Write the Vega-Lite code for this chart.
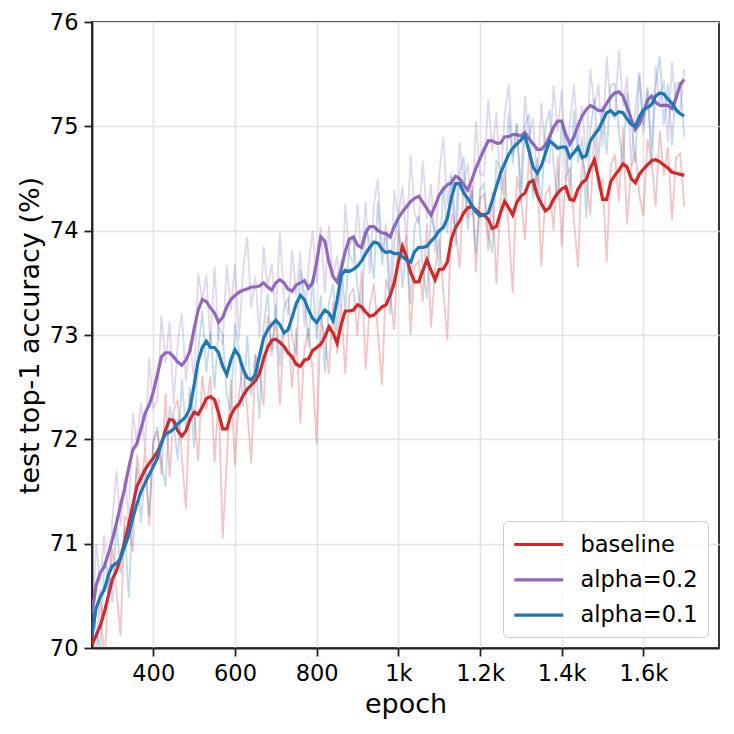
{
  "$schema": "https://vega.github.io/schema/vega-lite/v6.json",
  "autosize": {"type": "none"},
  "width": 627,
  "height": 626,
  "padding": {"left": 92, "top": 22, "right": 15, "bottom": 86},
  "background": "white",
  "config": {
    "font": "DejaVu Sans",
    "view": {"stroke": "#222222", "strokeWidth": 1.8},
    "axis": {
      "domainColor": "#222222", "domainWidth": 1.8,
      "tickColor": "#222222", "tickWidth": 1.8, "tickSize": 8,
      "labelFont": "DejaVu Sans", "labelFontSize": 22.5, "labelColor": "#000000", "labelPadding": 6,
      "titleFont": "DejaVu Sans", "titleFontSize": 27, "titleFontWeight": "normal", "titleColor": "#000000",
      "gridColor": "#e4e4e4", "gridWidth": 1.7
    },
    "legend": {"labelFont": "DejaVu Sans"}
  },
  "datasets": {
    "runs": [
      {"e":250,"b":70.23,"bs":70.03,"p":70.08,"ps":70.33,"c":70.41,"cs":70.11},
      {"e":260,"b":69.82,"bs":70.12,"p":71.0,"ps":70.6,"c":70.18,"cs":70.38},
      {"e":270,"b":70.56,"bs":70.21,"p":70.62,"ps":70.72,"c":69.99,"cs":70.49},
      {"e":280,"b":69.79,"bs":70.34,"p":71.08,"ps":70.78,"c":70.81,"cs":70.56},
      {"e":290,"b":70.6,"bs":70.5,"p":70.45,"ps":70.9,"c":70.75,"cs":70.7},
      {"e":300,"b":70.96,"bs":70.66,"p":71.24,"ps":71.04,"c":70.44,"cs":70.79},
      {"e":310,"b":70.54,"bs":70.74,"p":71.7,"ps":71.2,"c":71.21,"cs":70.81},
      {"e":320,"b":70.12,"bs":70.87,"p":71.17,"ps":71.37,"c":70.71,"cs":70.86},
      {"e":330,"b":71.27,"bs":71.02,"p":71.63,"ps":71.53,"c":71.17,"cs":70.97},
      {"e":340,"b":71.19,"bs":71.19,"p":71.23,"ps":71.73,"c":70.48,"cs":71.08},
      {"e":350,"b":70.92,"bs":71.37,"p":72.25,"ps":71.9,"c":71.35,"cs":71.25},
      {"e":360,"b":71.85,"bs":71.55,"p":71.96,"ps":71.96,"c":71.73,"cs":71.38},
      {"e":370,"b":71.53,"bs":71.63,"p":72.35,"ps":72.1,"c":71.2,"cs":71.5},
      {"e":380,"b":71.91,"bs":71.71,"p":71.9,"ps":72.25,"c":71.73,"cs":71.58},
      {"e":390,"b":71.17,"bs":71.77,"p":72.78,"ps":72.33,"c":71.26,"cs":71.66},
      {"e":400,"b":71.97,"bs":71.82,"p":72.3,"ps":72.45,"c":71.99,"cs":71.74},
      {"e":410,"b":72.08,"bs":71.88,"p":72.37,"ps":72.62,"c":72.12,"cs":71.82},
      {"e":420,"b":71.66,"bs":71.96,"p":73.19,"ps":72.79,"c":71.77,"cs":71.97},
      {"e":430,"b":72.44,"bs":72.09,"p":72.73,"ps":72.83,"c":71.55,"cs":72.05},
      {"e":440,"b":71.64,"bs":72.19,"p":73.13,"ps":72.83,"c":72.32,"cs":72.07},
      {"e":450,"b":72.28,"bs":72.18,"p":72.34,"ps":72.79,"c":72.15,"cs":72.1},
      {"e":460,"b":72.38,"bs":72.08,"p":72.94,"ps":72.74,"c":71.8,"cs":72.15},
      {"e":470,"b":71.83,"bs":72.03,"p":73.21,"ps":72.71,"c":72.58,"cs":72.18},
      {"e":480,"b":71.33,"bs":72.08,"p":72.56,"ps":72.76,"c":72.07,"cs":72.22},
      {"e":490,"b":72.44,"bs":72.19,"p":72.95,"ps":72.85,"c":72.5,"cs":72.3},
      {"e":500,"b":72.26,"bs":72.26,"p":72.56,"ps":73.06,"c":71.92,"cs":72.52},
      {"e":510,"b":71.79,"bs":72.24,"p":73.59,"ps":73.24,"c":72.85,"cs":72.75},
      {"e":520,"b":72.61,"bs":72.31,"p":73.34,"ps":73.34,"c":73.23,"cs":72.88},
      {"e":530,"b":72.29,"bs":72.39,"p":73.57,"ps":73.32,"c":72.64,"cs":72.94},
      {"e":540,"b":72.61,"bs":72.41,"p":72.91,"ps":73.26,"c":73.03,"cs":72.88},
      {"e":550,"b":71.78,"bs":72.38,"p":73.66,"ps":73.21,"c":72.48,"cs":72.88},
      {"e":560,"b":72.4,"bs":72.25,"p":72.97,"ps":73.12,"c":73.08,"cs":72.83},
      {"e":570,"b":71.05,"bs":72.1,"p":72.92,"ps":73.17,"c":73.0,"cs":72.7},
      {"e":580,"b":71.8,"bs":72.1,"p":73.67,"ps":73.27,"c":72.42,"cs":72.62},
      {"e":590,"b":72.58,"bs":72.23,"p":73.24,"ps":73.34,"c":72.26,"cs":72.76},
      {"e":600,"b":71.75,"bs":72.3,"p":73.68,"ps":73.38,"c":73.11,"cs":72.86},
      {"e":610,"b":72.44,"bs":72.34,"p":72.96,"ps":73.41,"c":72.85,"cs":72.8},
      {"e":620,"b":72.72,"bs":72.42,"p":73.63,"ps":73.43,"c":72.32,"cs":72.67},
      {"e":630,"b":72.28,"bs":72.48,"p":73.94,"ps":73.44,"c":72.99,"cs":72.59},
      {"e":640,"b":71.77,"bs":72.52,"p":73.26,"ps":73.46,"c":72.42,"cs":72.57},
      {"e":650,"b":72.81,"bs":72.56,"p":73.56,"ps":73.46,"c":72.82,"cs":72.62},
      {"e":660,"b":72.63,"bs":72.63,"p":72.97,"ps":73.47,"c":72.2,"cs":72.8},
      {"e":670,"b":72.32,"bs":72.77,"p":73.85,"ps":73.5,"c":73.07,"cs":72.97},
      {"e":680,"b":73.18,"bs":72.88,"p":73.46,"ps":73.46,"c":73.4,"cs":73.05},
      {"e":690,"b":72.85,"bs":72.95,"p":73.68,"ps":73.43,"c":72.8,"cs":73.1},
      {"e":700,"b":73.16,"bs":72.96,"p":73.15,"ps":73.5,"c":73.29,"cs":73.14},
      {"e":710,"b":72.33,"bs":72.93,"p":73.98,"ps":73.53,"c":72.7,"cs":73.1},
      {"e":720,"b":73.04,"bs":72.89,"p":73.35,"ps":73.5,"c":73.27,"cs":73.02},
      {"e":730,"b":73.03,"bs":72.83,"p":73.19,"ps":73.44,"c":73.35,"cs":73.05},
      {"e":740,"b":72.49,"bs":72.79,"p":73.82,"ps":73.42,"c":72.97,"cs":73.17},
      {"e":750,"b":73.07,"bs":72.72,"p":73.38,"ps":73.48,"c":72.8,"cs":73.3},
      {"e":760,"b":72.15,"bs":72.7,"p":73.8,"ps":73.5,"c":73.63,"cs":73.38},
      {"e":770,"b":72.86,"bs":72.76,"p":73.07,"ps":73.52,"c":73.39,"cs":73.34},
      {"e":780,"b":73.07,"bs":72.77,"p":73.65,"ps":73.45,"c":72.89,"cs":73.24},
      {"e":790,"b":72.65,"bs":72.85,"p":74.0,"ps":73.5,"c":73.56,"cs":73.16},
      {"e":800,"b":71.95,"bs":72.88,"p":73.5,"ps":73.7,"c":72.97,"cs":73.12},
      {"e":810,"b":73.16,"bs":72.91,"p":74.04,"ps":73.94,"c":73.38,"cs":73.18},
      {"e":820,"b":72.98,"bs":72.98,"p":73.4,"ps":73.9,"c":72.64,"cs":73.24},
      {"e":830,"b":72.63,"bs":73.08,"p":74.05,"ps":73.7,"c":73.31,"cs":73.21},
      {"e":840,"b":73.32,"bs":73.02,"p":73.56,"ps":73.56,"c":73.49,"cs":73.14},
      {"e":850,"b":72.82,"bs":72.92,"p":73.76,"ps":73.51,"c":73.03,"cs":73.33},
      {"e":860,"b":73.3,"bs":73.1,"p":73.28,"ps":73.63,"c":73.72,"cs":73.57},
      {"e":870,"b":72.63,"bs":73.23,"p":74.25,"ps":73.8,"c":73.22,"cs":73.62},
      {"e":880,"b":73.38,"bs":73.23,"p":73.77,"ps":73.92,"c":73.86,"cs":73.61},
      {"e":890,"b":73.44,"bs":73.24,"p":73.69,"ps":73.94,"c":73.93,"cs":73.63},
      {"e":900,"b":72.99,"bs":73.29,"p":74.26,"ps":73.86,"c":73.46,"cs":73.66},
      {"e":910,"b":73.62,"bs":73.27,"p":73.74,"ps":73.84,"c":73.21,"cs":73.71},
      {"e":920,"b":72.67,"bs":73.22,"p":74.28,"ps":73.98,"c":74.03,"cs":73.78},
      {"e":930,"b":73.28,"bs":73.18,"p":73.59,"ps":74.04,"c":73.89,"cs":73.84},
      {"e":940,"b":73.49,"bs":73.19,"p":74.24,"ps":74.04,"c":73.54,"cs":73.89},
      {"e":950,"b":73.03,"bs":73.23,"p":74.5,"ps":74.0,"c":74.28,"cs":73.88},
      {"e":960,"b":72.52,"bs":73.27,"p":73.78,"ps":73.98,"c":73.67,"cs":73.82},
      {"e":970,"b":73.54,"bs":73.29,"p":74.07,"ps":73.97,"c":73.99,"cs":73.79},
      {"e":980,"b":73.38,"bs":73.38,"p":73.44,"ps":73.94,"c":73.2,"cs":73.8},
      {"e":990,"b":73.05,"bs":73.5,"p":74.39,"ps":74.04,"c":73.88,"cs":73.78},
      {"e":1000,"b":74.0,"bs":73.7,"p":74.12,"ps":74.12,"c":74.13,"cs":73.78},
      {"e":1010,"b":73.75,"bs":73.85,"p":74.43,"ps":74.18,"c":73.45,"cs":73.75},
      {"e":1020,"b":73.95,"bs":73.75,"p":73.88,"ps":74.23,"c":73.87,"cs":73.72},
      {"e":1030,"b":73.0,"bs":73.6,"p":74.73,"ps":74.28,"c":73.3,"cs":73.7},
      {"e":1040,"b":73.66,"bs":73.51,"p":74.16,"ps":74.31,"c":74.05,"cs":73.8},
      {"e":1050,"b":73.71,"bs":73.51,"p":74.08,"ps":74.33,"c":74.14,"cs":73.84},
      {"e":1060,"b":73.32,"bs":73.62,"p":74.67,"ps":74.27,"c":73.64,"cs":73.84},
      {"e":1070,"b":74.07,"bs":73.72,"p":74.11,"ps":74.21,"c":73.35,"cs":73.85},
      {"e":1080,"b":73.07,"bs":73.62,"p":74.45,"ps":74.15,"c":74.15,"cs":73.9},
      {"e":1090,"b":73.63,"bs":73.53,"p":73.79,"ps":74.24,"c":73.99,"cs":73.94},
      {"e":1100,"b":73.93,"bs":73.63,"p":74.54,"ps":74.34,"c":73.65,"cs":74.0},
      {"e":1110,"b":73.43,"bs":73.63,"p":74.9,"ps":74.4,"c":74.43,"cs":74.03},
      {"e":1120,"b":72.95,"bs":73.7,"p":74.24,"ps":74.44,"c":73.97,"cs":74.12},
      {"e":1130,"b":74.17,"bs":73.92,"p":74.56,"ps":74.46,"c":74.52,"cs":74.32},
      {"e":1140,"b":74.03,"bs":74.03,"p":74.02,"ps":74.52,"c":73.85,"cs":74.45},
      {"e":1150,"b":73.64,"bs":74.09,"p":74.85,"ps":74.5,"c":74.55,"cs":74.45},
      {"e":1160,"b":74.47,"bs":74.17,"p":74.44,"ps":74.44,"c":74.71,"cs":74.36},
      {"e":1170,"b":74.12,"bs":74.22,"p":74.64,"ps":74.39,"c":74.01,"cs":74.31},
      {"e":1180,"b":74.43,"bs":74.23,"p":74.14,"ps":74.49,"c":74.39,"cs":74.24},
      {"e":1190,"b":73.6,"bs":74.2,"p":75.05,"ps":74.6,"c":73.78,"cs":74.18},
      {"e":1200,"b":74.31,"bs":74.16,"p":74.54,"ps":74.69,"c":74.39,"cs":74.14},
      {"e":1210,"b":74.35,"bs":74.15,"p":74.53,"ps":74.78,"c":74.45,"cs":74.15},
      {"e":1220,"b":73.81,"bs":74.11,"p":75.26,"ps":74.86,"c":73.97,"cs":74.17},
      {"e":1230,"b":74.37,"bs":74.02,"p":74.76,"ps":74.86,"c":73.79,"cs":74.29},
      {"e":1240,"b":73.49,"bs":74.04,"p":75.14,"ps":74.84,"c":74.67,"cs":74.42},
      {"e":1250,"b":74.27,"bs":74.17,"p":74.39,"ps":74.84,"c":74.6,"cs":74.55},
      {"e":1260,"b":74.58,"bs":74.28,"p":75.1,"ps":74.9,"c":74.29,"cs":74.64},
      {"e":1270,"b":74.02,"bs":74.22,"p":75.4,"ps":74.9,"c":75.13,"cs":74.73},
      {"e":1280,"b":73.4,"bs":74.15,"p":74.72,"ps":74.92,"c":74.64,"cs":74.79},
      {"e":1290,"b":74.52,"bs":74.27,"p":75.02,"ps":74.92,"c":75.03,"cs":74.83},
      {"e":1300,"b":74.33,"bs":74.33,"p":74.41,"ps":74.91,"c":74.27,"cs":74.87},
      {"e":1310,"b":73.91,"bs":74.36,"p":75.29,"ps":74.94,"c":75.01,"cs":74.91},
      {"e":1320,"b":74.76,"bs":74.46,"p":74.88,"ps":74.88,"c":75.11,"cs":74.76},
      {"e":1330,"b":74.38,"bs":74.48,"p":75.08,"ps":74.83,"c":74.31,"cs":74.61},
      {"e":1340,"b":74.54,"bs":74.34,"p":74.43,"ps":74.78,"c":74.7,"cs":74.55},
      {"e":1350,"b":73.66,"bs":74.26,"p":75.23,"ps":74.78,"c":74.22,"cs":74.62},
      {"e":1360,"b":74.34,"bs":74.19,"p":74.67,"ps":74.82,"c":74.99,"cs":74.74},
      {"e":1370,"b":74.42,"bs":74.22,"p":74.65,"ps":74.9,"c":75.16,"cs":74.86},
      {"e":1380,"b":74.0,"bs":74.3,"p":75.39,"ps":74.99,"c":74.63,"cs":74.83},
      {"e":1390,"b":74.71,"bs":74.36,"p":74.95,"ps":75.05,"c":74.29,"cs":74.79},
      {"e":1400,"b":73.85,"bs":74.4,"p":75.35,"ps":75.05,"c":75.05,"cs":74.8},
      {"e":1410,"b":74.52,"bs":74.42,"p":74.47,"ps":74.92,"c":74.85,"cs":74.8},
      {"e":1420,"b":74.6,"bs":74.3,"p":75.03,"ps":74.83,"c":74.35,"cs":74.7},
      {"e":1430,"b":74.09,"bs":74.29,"p":75.4,"ps":74.9,"c":75.15,"cs":74.75},
      {"e":1440,"b":73.65,"bs":74.4,"p":74.81,"ps":75.01,"c":74.65,"cs":74.8},
      {"e":1450,"b":74.71,"bs":74.46,"p":75.2,"ps":75.1,"c":74.9,"cs":74.7},
      {"e":1460,"b":74.49,"bs":74.49,"p":74.66,"ps":75.16,"c":74.12,"cs":74.72},
      {"e":1470,"b":74.15,"bs":74.6,"p":75.55,"ps":75.2,"c":74.96,"cs":74.86},
      {"e":1480,"b":74.98,"bs":74.68,"p":75.18,"ps":75.18,"c":75.27,"cs":74.92},
      {"e":1490,"b":74.4,"bs":74.5,"p":75.4,"ps":75.15,"c":74.67,"cs":74.97},
      {"e":1500,"b":74.5,"bs":74.3,"p":74.8,"ps":75.15,"c":75.2,"cs":75.05},
      {"e":1510,"b":73.7,"bs":74.3,"p":75.67,"ps":75.22,"c":74.73,"cs":75.13},
      {"e":1520,"b":74.62,"bs":74.47,"p":75.13,"ps":75.28,"c":75.4,"cs":75.15},
      {"e":1530,"b":74.73,"bs":74.53,"p":75.07,"ps":75.32,"c":75.41,"cs":75.11},
      {"e":1540,"b":74.28,"bs":74.58,"p":75.73,"ps":75.33,"c":74.94,"cs":75.14},
      {"e":1550,"b":74.99,"bs":74.64,"p":75.19,"ps":75.29,"c":74.63,"cs":75.13},
      {"e":1560,"b":74.06,"bs":74.61,"p":75.48,"ps":75.18,"c":75.32,"cs":75.07},
      {"e":1570,"b":74.6,"bs":74.5,"p":74.62,"ps":75.07,"c":75.07,"cs":75.02},
      {"e":1580,"b":74.76,"bs":74.46,"p":75.17,"ps":74.97,"c":74.65,"cs":75.0},
      {"e":1590,"b":74.34,"bs":74.54,"p":75.52,"ps":75.02,"c":75.49,"cs":75.09},
      {"e":1600,"b":74.14,"bs":74.59,"p":74.93,"ps":75.13,"c":75.01,"cs":75.16},
      {"e":1610,"b":74.88,"bs":74.63,"p":75.35,"ps":75.25,"c":75.38,"cs":75.18},
      {"e":1620,"b":74.67,"bs":74.67,"p":74.79,"ps":75.29,"c":74.61,"cs":75.21},
      {"e":1630,"b":74.23,"bs":74.68,"p":75.58,"ps":75.23,"c":75.39,"cs":75.29},
      {"e":1640,"b":74.96,"bs":74.66,"p":75.2,"ps":75.2,"c":75.67,"cs":75.32},
      {"e":1650,"b":74.53,"bs":74.63,"p":75.45,"ps":75.2,"c":75.01,"cs":75.31},
      {"e":1660,"b":74.8,"bs":74.6,"p":74.85,"ps":75.2,"c":75.41,"cs":75.26},
      {"e":1670,"b":74.1,"bs":74.56,"p":75.62,"ps":75.17,"c":74.82,"cs":75.22},
      {"e":1680,"b":74.7,"bs":74.55,"p":75.12,"ps":75.27,"c":75.41,"cs":75.16},
      {"e":1690,"b":74.74,"bs":74.54,"p":75.15,"ps":75.4,"c":75.42,"cs":75.12},
      {"e":1700,"b":74.23,"bs":74.53,"p":75.55,"ps":75.45,"c":74.9,"cs":75.1}
    ]
  },
  "data": {"name": "runs"},
  "encoding": {
    "x": {
      "field": "e", "type": "quantitative", "title": "epoch",
      "scale": {"domain": [250, 1785], "nice": false, "zero": false},
      "axis": {"values": [400, 600, 800, 1000, 1200, 1400, 1600], "grid": true,
               "labelExpr": "datum.value >= 1000 ? format(datum.value / 1000, '~g') + 'k' : datum.label",
               "titlePadding": 7}
    }
  },
  "layer": [
    {
      "mark": {"type": "line", "clip": true, "color": "#d62728", "opacity": 0.27, "strokeWidth": 1.8},
      "encoding": {"y": {"field": "b", "type": "quantitative", "title": "test top-1 accuracy (%)",
        "scale": {"domain": [70, 76], "nice": false, "zero": false},
        "axis": {"values": [70, 71, 72, 73, 74, 75, 76], "format": "d", "grid": true, "titlePadding": 5}}}
    },
    {
      "mark": {"type": "line", "clip": true, "strokeWidth": 3.2},
      "encoding": {
        "y": {"field": "bs", "type": "quantitative"},
        "color": {"datum": "baseline", "type": "nominal",
          "scale": {"domain": ["baseline", "alpha=0.2", "alpha=0.1"], "range": ["#d62728", "#9467bd", "#1f77b4"]},
          "legend": {"orient": "bottom-right", "offset": 11, "title": null, "symbolType": "M-1,0H3",
            "symbolSize": 600, "symbolStrokeWidth": 3.2, "labelFontSize": 22.5, "labelColor": "#000000",
            "labelOffset": 40, "padding": 9.5, "rowPadding": 9.3,
            "fillColor": "rgba(255,255,255,0.8)", "strokeColor": "#cccccc", "cornerRadius": 5}}
      }
    },
    {
      "mark": {"type": "line", "clip": true, "color": "#9467bd", "opacity": 0.27, "strokeWidth": 1.8},
      "encoding": {"y": {"field": "p", "type": "quantitative"}}
    },
    {
      "mark": {"type": "line", "clip": true, "strokeWidth": 3.2},
      "encoding": {"y": {"field": "ps", "type": "quantitative"}, "color": {"datum": "alpha=0.2", "type": "nominal"}}
    },
    {
      "mark": {"type": "line", "clip": true, "color": "#1f77b4", "opacity": 0.27, "strokeWidth": 1.8},
      "encoding": {"y": {"field": "c", "type": "quantitative"}}
    },
    {
      "mark": {"type": "line", "clip": true, "strokeWidth": 3.2},
      "encoding": {"y": {"field": "cs", "type": "quantitative"}, "color": {"datum": "alpha=0.1", "type": "nominal"}}
    }
  ]
}
